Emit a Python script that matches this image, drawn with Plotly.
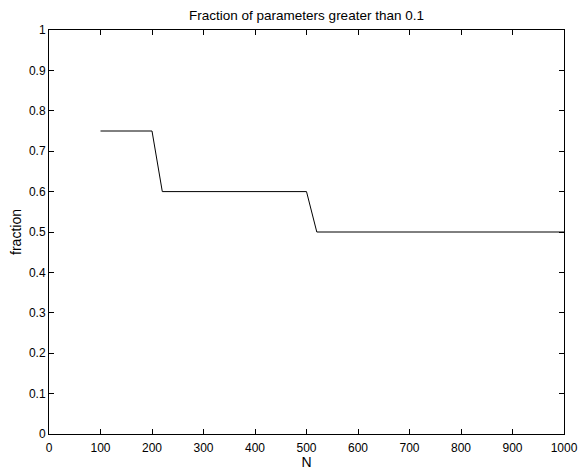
import plotly.graph_objects as go

N = [100, 200, 220, 500, 520, 1000]
fraction = [0.75, 0.75, 0.6, 0.6, 0.5, 0.5]
x_ticks = [0, 100, 200, 300, 400, 500, 600, 700, 800, 900, 1000]
y_ticks = [0, 0.1, 0.2, 0.3, 0.4, 0.5, 0.6, 0.7, 0.8, 0.9, 1]
y_tick_labels = ["0", "0.1", "0.2", "0.3", "0.4", "0.5", "0.6", "0.7", "0.8", "0.9", "1"]

fig = go.Figure(go.Scatter(x=N, y=fraction, mode="lines",
                           line=dict(color="black", width=1), showlegend=False))

font = dict(family="Liberation Sans, Arial, sans-serif", size=12, color="black")
fig.update_layout(
    width=582, height=470,
    margin=dict(l=49, r=18, t=30, b=36),
    paper_bgcolor="white", plot_bgcolor="white",
    font=font,
    title=dict(text="Fraction of parameters greater than 0.1", x=306.5/582, xanchor="center",
               xref="container", y=1 - 15/470, yanchor="middle", font=dict(size=13.5)),
    xaxis=dict(range=[0, 1000], tickvals=x_ticks, ticks="inside", ticklen=5,
               showline=True, linecolor="black", linewidth=1, mirror="ticks",
               showgrid=False, zeroline=False, tickcolor="black", automargin=False,
               ticklabelstandoff=3,
               title=dict(text="N", standoff=0)),
    yaxis=dict(range=[0, 1], tickvals=y_ticks, ticktext=y_tick_labels, ticks="inside", ticklen=5,
               showline=True, linecolor="black", linewidth=1, mirror="ticks",
               showgrid=False, zeroline=False, tickcolor="black", automargin=False,
               title=dict(text="fraction", standoff=4)),
)
fig.write_html("out.html", config={"displayModeBar": False},
               post_script="document.body.style.margin='0';document.body.style.padding='0';")
